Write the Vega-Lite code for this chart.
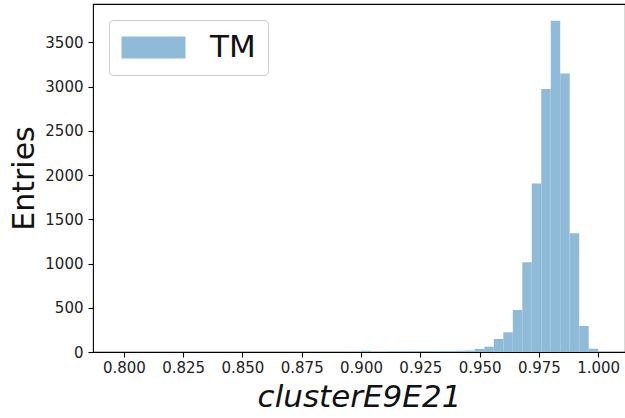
{
  "$schema": "https://vega.github.io/schema/vega-lite/v6.json",
  "autosize": "none",
  "width": 532,
  "height": 348,
  "padding": {"left": 93, "top": 4, "right": 0, "bottom": 66},
  "background": "white",
  "config": {
    "font": "DejaVu Sans",
    "view": {"stroke": "black", "strokeWidth": 1.1}
  },
  "data": {
    "values": [
      {"bin_start": 0.900, "bin_end": 0.904, "count": 15, "series": "TM"},
      {"bin_start": 0.912, "bin_end": 0.916, "count": 8, "series": "TM"},
      {"bin_start": 0.916, "bin_end": 0.920, "count": 9, "series": "TM"},
      {"bin_start": 0.920, "bin_end": 0.924, "count": 10, "series": "TM"},
      {"bin_start": 0.924, "bin_end": 0.928, "count": 10, "series": "TM"},
      {"bin_start": 0.928, "bin_end": 0.932, "count": 11, "series": "TM"},
      {"bin_start": 0.932, "bin_end": 0.936, "count": 12, "series": "TM"},
      {"bin_start": 0.936, "bin_end": 0.940, "count": 12, "series": "TM"},
      {"bin_start": 0.940, "bin_end": 0.944, "count": 14, "series": "TM"},
      {"bin_start": 0.944, "bin_end": 0.948, "count": 16, "series": "TM"},
      {"bin_start": 0.948, "bin_end": 0.952, "count": 35, "series": "TM"},
      {"bin_start": 0.952, "bin_end": 0.956, "count": 60, "series": "TM"},
      {"bin_start": 0.956, "bin_end": 0.960, "count": 147, "series": "TM"},
      {"bin_start": 0.960, "bin_end": 0.964, "count": 223, "series": "TM"},
      {"bin_start": 0.964, "bin_end": 0.968, "count": 475, "series": "TM"},
      {"bin_start": 0.968, "bin_end": 0.972, "count": 1015, "series": "TM"},
      {"bin_start": 0.972, "bin_end": 0.976, "count": 1905, "series": "TM"},
      {"bin_start": 0.976, "bin_end": 0.980, "count": 2973, "series": "TM"},
      {"bin_start": 0.980, "bin_end": 0.984, "count": 3745, "series": "TM"},
      {"bin_start": 0.984, "bin_end": 0.988, "count": 3149, "series": "TM"},
      {"bin_start": 0.988, "bin_end": 0.992, "count": 1343, "series": "TM"},
      {"bin_start": 0.992, "bin_end": 0.996, "count": 294, "series": "TM"},
      {"bin_start": 0.996, "bin_end": 1.000, "count": 37, "series": "TM"}
    ]
  },
  "mark": {"type": "bar", "opacity": 1, "orient": "vertical"},
  "encoding": {
    "x": {
      "field": "bin_start",
      "type": "quantitative",
      "scale": {"domain": [0.7891, 1.0092], "nice": false, "zero": false},
      "axis": {
        "values": [0.8, 0.825, 0.85, 0.875, 0.9, 0.925, 0.95, 0.975, 1.0],
        "format": ".3f",
        "grid": false,
        "domain": false,
        "tickColor": "black",
        "tickSize": 5,
        "tickWidth": 1.1,
        "labelFontSize": 15,
        "labelColor": "#222222",
        "labelPadding": 3,
        "title": "clusterE9E21",
        "titleFontSize": 31,
        "titleFontStyle": "italic",
        "titleFontWeight": "normal",
        "titleColor": "#111111",
        "titlePadding": 7
      }
    },
    "x2": {"field": "bin_end"},
    "y": {
      "field": "count",
      "type": "quantitative",
      "scale": {"domain": [0, 3935], "nice": false},
      "axis": {
        "values": [0, 500, 1000, 1500, 2000, 2500, 3000, 3500],
        "format": "d",
        "grid": false,
        "domain": false,
        "tickColor": "black",
        "tickSize": 5,
        "tickWidth": 1.1,
        "labelFontSize": 15,
        "labelColor": "#222222",
        "labelPadding": 5,
        "title": "Entries",
        "titleFontSize": 30,
        "titleFontWeight": "normal",
        "titleColor": "#111111",
        "titlePadding": 5
      }
    },
    "y2": {"datum": 0},
    "color": {
      "field": "series",
      "type": "nominal",
      "scale": {"range": ["#8fbbd9"]},
      "legend": {
        "title": null,
        "orient": "top-left",
        "offset": 16,
        "padding": 12,
        "strokeColor": "#cccccc",
        "fillColor": "white",
        "cornerRadius": 4,
        "symbolType": "M-2.909,-1H2.909V1H-2.909Z",
        "symbolSize": 484,
        "symbolStrokeWidth": 0,
        "symbolOpacity": 1,
        "symbolOffset": 17,
        "labelFontSize": 31,
        "labelColor": "#111111",
        "labelOffset": 41
      }
    }
  }
}
